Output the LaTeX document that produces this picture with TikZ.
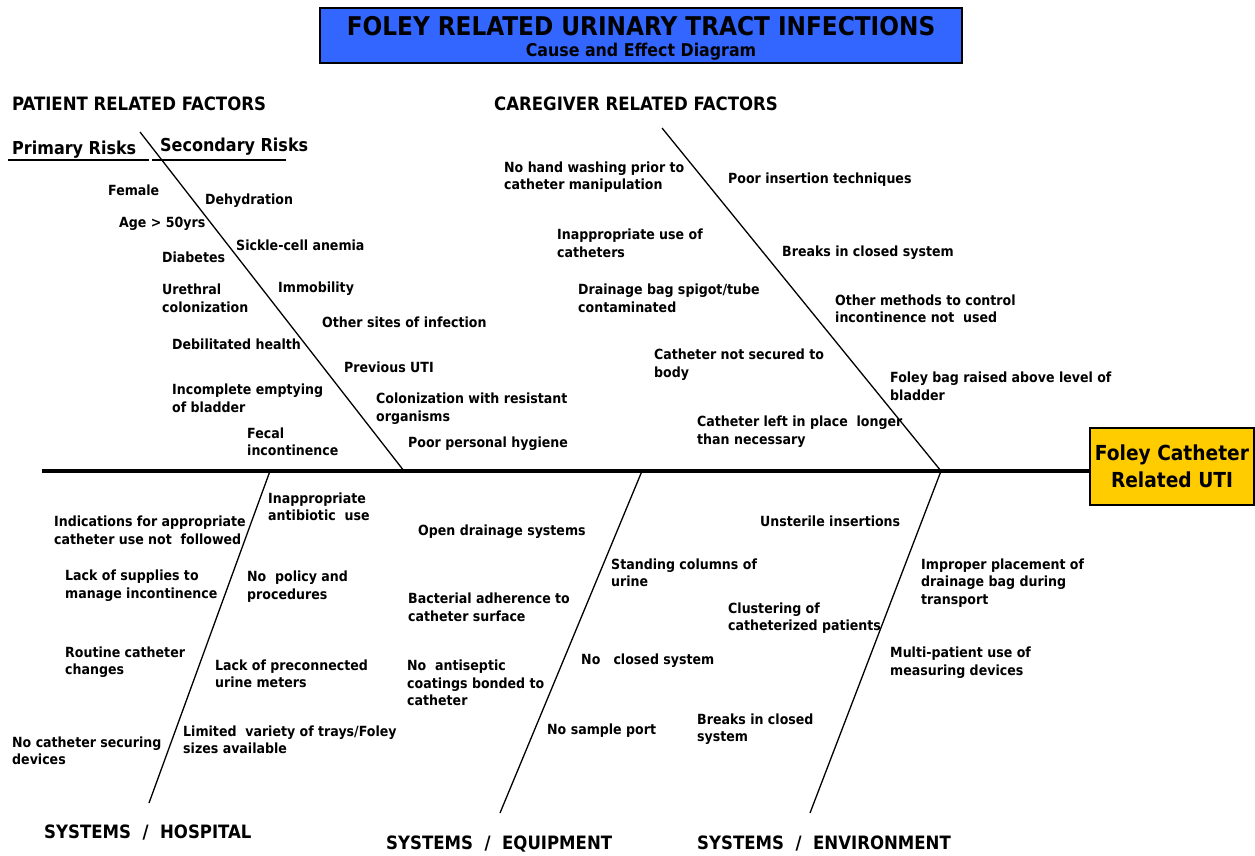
\documentclass[tikz,border=0pt]{standalone}
\usepackage{fontspec}
\setmainfont{DejaVu Sans Condensed}
\definecolor{titleblue}{RGB}{51,102,255}
\definecolor{effectgold}{RGB}{255,204,0}
\tikzset{
  lbl/.style={anchor=west, align=left, inner sep=0pt, font=\fontsize{14}{17.5}\selectfont\bfseries},
  hdr/.style={anchor=west, inner sep=0pt, font=\fontsize{18.4}{21}\selectfont\bfseries},
  risk/.style={anchor=west, inner sep=0pt, font=\fontsize{17.8}{20}\selectfont\bfseries},
  bone/.style={line width=1.3pt},
  spine/.style={line width=4.5pt},
}
\begin{document}
\begin{tikzpicture}[x=1pt,y=-1pt]
\useasboundingbox (0,0) rectangle (1255,856);
% title
\node[draw=black, line width=1.5pt, fill=titleblue, minimum width=642pt, minimum height=55pt, inner sep=0pt] (title) at (641,35.5) {};
\node[inner sep=0pt, font=\fontsize{25.8}{28}\selectfont\bfseries] (t1) at (641,26) {FOLEY RELATED URINARY TRACT INFECTIONS};
\node[inner sep=0pt, font=\fontsize{17.6}{20}\selectfont\bfseries] (t2) at (641,52) {Cause and Effect Diagram};
% effect
\node[draw=black, line width=1.5pt, fill=effectgold, minimum width=164pt, minimum height=77pt, inner sep=0pt, align=center, font=\fontsize{20.7}{27}\selectfont\bfseries] (effect) at (1172,466.5) {Foley Catheter\\Related UTI};
% spine
\coordinate (spL) at (42,471);
\draw[spine] (spL) -- (effect.west |- spL);
% bones
\coordinate (pT) at (140,132); \coordinate (pB) at (404,471);
\coordinate (cT) at (662,128); \coordinate (cB) at (941,471);
\coordinate (hT) at (270,471); \coordinate (hB) at (149,803);
\coordinate (qT) at (642,471); \coordinate (qB) at (500,813);
\coordinate (eT) at (941,471); \coordinate (eB) at (810,813);
\draw[bone] (pT) -- (pB);
\draw[bone] (cT) -- (cB);
\draw[bone] (hT) -- (hB);
\draw[bone] (qT) -- (qB);
\draw[bone] (eT) -- (eB);
% primary/secondary underline
\coordinate (u1) at (8,160); \coordinate (u2) at (149,160);
\coordinate (u3) at (152,160); \coordinate (u4) at (286,160);
\draw[line width=1.2pt] (u1) -- (u2);
\draw[line width=1.2pt] (u3) -- (u4);
% headers
\node[hdr] (hp) at (12,104) {PATIENT RELATED FACTORS};
\node[hdr] (hc) at (494,104) {CAREGIVER RELATED FACTORS};
\node[risk] (pr) at (12,150) {Primary Risks};
\node[risk] (sr) at (160,147) {Secondary Risks};
\node[hdr] (hh) at (44,833) {SYSTEMS\ \ /\ \ HOSPITAL};
\node[hdr] (hq) at (386,844) {SYSTEMS\ \ /\ \ EQUIPMENT};
\node[hdr] (he) at (697,844) {SYSTEMS\ \ /\ \ ENVIRONMENT};
% patient
\node[lbl] (p1) at (108,190) {Female};
\node[lbl] (p2) at (119,224) {Age > 50yrs};
\node[lbl] (p3) at (162,257) {Diabetes};
\node[lbl] (p4) at (162,298.5) {Urethral\\colonization};
\node[lbl] (p5) at (172,344) {Debilitated health};
\node[lbl] (p6) at (172,398.5) {Incomplete emptying\\of bladder};
\node[lbl] (p7) at (247,442) {Fecal\\incontinence};
\node[lbl] (s1) at (205,201) {Dehydration};
\node[lbl] (s2) at (236,245) {Sickle-cell anemia};
\node[lbl] (s3) at (278,289) {Immobility};
\node[lbl] (s4) at (322,322) {Other sites of infection};
\node[lbl] (s5) at (344,367) {Previous UTI};
\node[lbl] (s6) at (376,408.5) {Colonization with resistant\\organisms};
\node[lbl] (s7) at (408,444) {Poor personal hygiene};
% caregiver
\node[lbl] (c1) at (504,177) {No hand washing prior to\\catheter manipulation};
\node[lbl] (c2) at (557,243.5) {Inappropriate use of\\catheters};
\node[lbl] (c3) at (578,298.5) {Drainage bag spigot/tube\\contaminated};
\node[lbl] (c4) at (654,364.5) {Catheter not secured to\\body};
\node[lbl] (c5) at (697,431.5) {Catheter left in place\ \ longer\\than necessary};
\node[lbl] (c6) at (728,180) {Poor insertion techniques};
\node[lbl] (c7) at (782,253) {Breaks in closed system};
\node[lbl] (c8) at (835,309) {Other methods to control\\incontinence not\ \ used};
\node[lbl] (c9) at (890,386.5) {Foley bag raised above level of\\bladder};
% hospital
\node[lbl] (h1) at (54,530.5) {Indications for appropriate\\catheter use not\ \ followed};
\node[lbl] (h2) at (65,585.5) {Lack of supplies to\\manage incontinence};
\node[lbl] (h3) at (65,662) {Routine catheter\\changes};
\node[lbl] (h4) at (12,751) {No catheter securing\\devices};
\node[lbl] (h5) at (268,507) {Inappropriate\\antibiotic\ \ use};
\node[lbl] (h6) at (247,586.5) {No\ \ policy and\\procedures};
\node[lbl] (h7) at (215,674) {Lack of preconnected\\urine meters};
\node[lbl] (h8) at (183,740) {Limited\ \ variety of trays/Foley\\sizes available};
% equipment
\node[lbl] (q1) at (418,532) {Open drainage systems};
\node[lbl] (q2) at (408,607.5) {Bacterial adherence to\\catheter surface};
\node[lbl] (q3) at (407,683) {No\ \ antiseptic\\coatings bonded to\\catheter};
\node[lbl] (q4) at (611,573) {Standing columns of\\urine};
\node[lbl] (q5) at (581,661) {No\ \ \ closed system};
\node[lbl] (q6) at (547,731) {No sample port};
% environment
\node[lbl] (e1) at (760,521) {Unsterile insertions};
\node[lbl] (e2) at (728,618) {Clustering of\\catheterized patients};
\node[lbl] (e3) at (697,729) {Breaks in closed\\system};
\node[lbl] (e4) at (921,583) {Improper placement of\\drainage bag during\\transport};
\node[lbl] (e5) at (890,662.5) {Multi-patient use of\\measuring devices};
\end{tikzpicture}
\end{document}
